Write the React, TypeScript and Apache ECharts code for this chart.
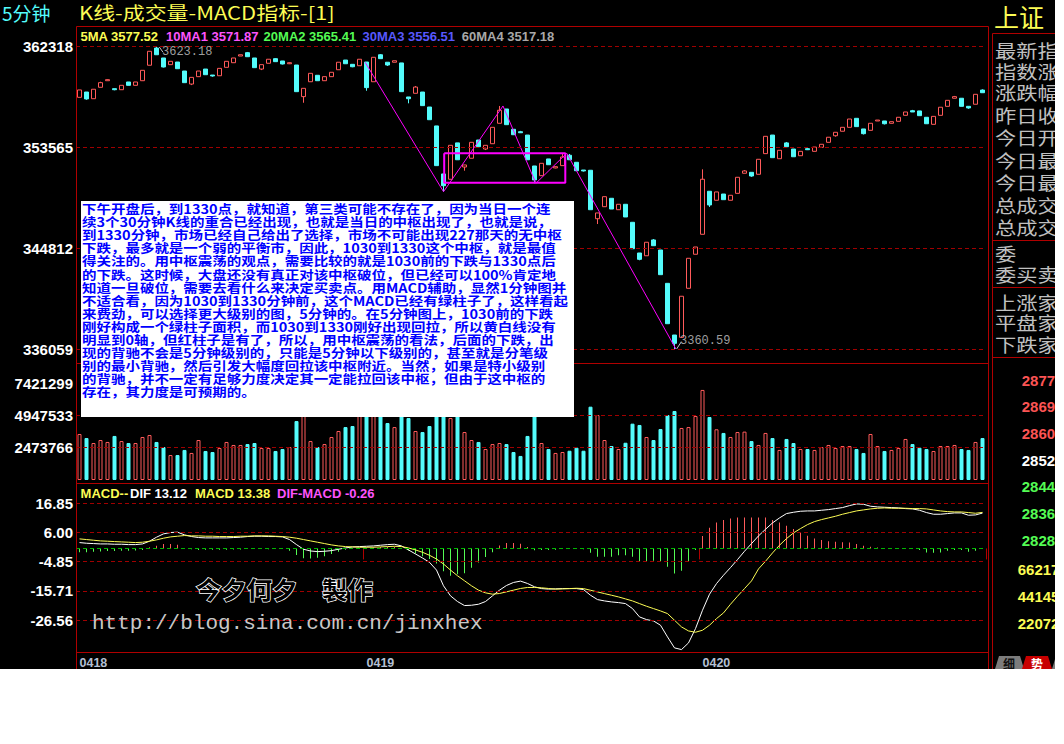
import React, { useEffect, useRef } from "react";
import * as echarts from "echarts";

// ---------- data ----------
// each candle: [open, close, low, high]
const candles: number[][] = [
  [3578.7, 3585.1, 3578.7, 3585.1], [3583.3, 3577.3, 3576.6, 3583.3], [3577.5, 3585.7, 3577.5, 3585.7], [3587.4, 3591.4, 3587.4, 3592.2], [3593.1, 3594.0, 3593.1, 3594.3],
  [3586.2, 3585.3, 3584.8, 3586.2], [3585.3, 3589.1, 3585.3, 3589.1], [3592.0, 3589.1, 3589.1, 3592.0], [3589.1, 3592.0, 3589.1, 3592.0], [3593.1, 3602.1, 3593.1, 3602.1],
  [3606.5, 3618.6, 3606.5, 3618.6], [3621.4, 3615.6, 3615.6, 3623.18], [3612.8, 3605.0, 3604.6, 3612.8], [3607.0, 3609.9, 3607.0, 3609.9], [3609.3, 3603.5, 3603.5, 3609.3],
  [3601.5, 3591.4, 3591.4, 3601.5], [3590.2, 3596.0, 3589.3, 3596.0], [3596.6, 3601.5, 3596.6, 3601.5], [3603.2, 3598.3, 3598.3, 3603.2], [3598.0, 3597.2, 3596.6, 3598.0],
  [3597.4, 3603.8, 3597.4, 3603.8], [3604.7, 3609.9, 3604.7, 3609.9], [3608.7, 3612.8, 3608.7, 3612.8], [3614.5, 3615.6, 3614.5, 3615.6], [3617.4, 3613.9, 3613.9, 3618.0],
  [3612.8, 3604.4, 3604.4, 3612.8], [3603.2, 3607.0, 3602.3, 3607.0], [3608.2, 3611.7, 3608.2, 3611.7], [3612.2, 3609.6, 3609.6, 3612.6], [3610.2, 3607.6, 3607.2, 3610.2],
  [3607.8, 3608.7, 3607.5, 3609.0], [3606.7, 3583.6, 3583.6, 3606.7], [3579.3, 3586.5, 3574.0, 3586.5], [3592.2, 3599.5, 3592.2, 3599.5], [3597.8, 3593.1, 3593.1, 3597.8],
  [3593.1, 3596.6, 3593.1, 3596.6], [3596.6, 3600.4, 3596.6, 3600.4], [3602.6, 3609.1, 3602.6, 3609.1], [3611.0, 3607.8, 3607.8, 3611.0], [3607.3, 3605.2, 3604.8, 3607.3],
  [3606.1, 3611.7, 3606.1, 3611.7], [3609.3, 3587.1, 3584.4, 3609.3], [3592.2, 3613.4, 3592.2, 3613.4], [3615.6, 3612.2, 3612.2, 3616.2], [3609.1, 3606.7, 3605.9, 3609.1],
  [3609.1, 3610.4, 3609.1, 3610.4], [3608.5, 3583.6, 3583.6, 3608.5], [3579.0, 3577.5, 3573.5, 3579.0], [3582.2, 3587.6, 3582.2, 3588.5], [3583.3, 3571.5, 3571.5, 3583.3],
  [3570.3, 3559.3, 3559.3, 3570.3], [3553.9, 3519.5, 3519.5, 3553.9], [3512.3, 3502.1, 3496.9, 3512.3], [3507.7, 3537.1, 3507.7, 3537.1], [3539.2, 3524.6, 3524.6, 3539.2],
  [3518.3, 3520.1, 3515.1, 3520.1], [3525.9, 3539.7, 3525.9, 3539.7], [3541.7, 3535.9, 3535.9, 3541.7], [3533.9, 3537.1, 3533.0, 3537.1], [3538.5, 3552.7, 3538.5, 3552.7],
  [3556.2, 3567.5, 3556.2, 3571.2], [3568.6, 3555.0, 3555.0, 3568.6], [3551.0, 3546.3, 3546.3, 3551.0], [3548.9, 3548.0, 3547.8, 3549.6], [3546.0, 3524.6, 3524.6, 3546.0],
  [3519.2, 3507.1, 3504.2, 3519.2], [3510.8, 3521.5, 3510.8, 3521.5], [3525.3, 3520.3, 3520.3, 3525.3], [3517.5, 3518.6, 3517.2, 3518.6], [3519.5, 3527.0, 3519.5, 3530.2],
  [3528.5, 3524.6, 3524.6, 3529.6], [3522.4, 3515.1, 3515.1, 3522.4], [3515.7, 3514.9, 3514.4, 3515.7], [3515.5, 3481.3, 3481.3, 3515.5], [3473.5, 3478.5, 3468.9, 3478.5],
  [3483.9, 3492.6, 3483.9, 3492.6], [3491.2, 3481.9, 3481.9, 3491.2], [3481.3, 3486.0, 3481.3, 3486.0], [3486.0, 3475.0, 3475.0, 3486.0], [3470.4, 3447.5, 3447.5, 3470.4],
  [3443.8, 3438.3, 3437.5, 3443.8], [3441.4, 3453.1, 3441.4, 3453.1], [3455.1, 3450.1, 3450.1, 3455.9], [3446.4, 3425.0, 3425.0, 3446.4], [3417.5, 3382.5, 3382.5, 3417.5],
  [3372.7, 3365.5, 3360.59, 3372.7], [3370.7, 3406.3, 3370.7, 3406.3], [3413.2, 3439.2, 3413.2, 3439.2], [3442.7, 3449.0, 3442.7, 3449.0], [3460.0, 3507.7, 3460.0, 3516.3],
  [3497.3, 3485.4, 3483.7, 3497.3], [3489.5, 3496.7, 3489.5, 3496.7], [3494.9, 3490.0, 3490.0, 3494.9], [3489.5, 3493.8, 3489.5, 3493.8], [3495.5, 3509.4, 3495.5, 3509.4],
  [3512.9, 3514.9, 3512.9, 3515.6], [3513.7, 3510.5, 3509.8, 3513.7], [3512.0, 3525.0, 3512.0, 3525.0], [3529.9, 3544.9, 3529.9, 3544.9], [3546.0, 3526.4, 3526.4, 3546.0],
  [3525.5, 3532.8, 3525.5, 3532.8], [3539.2, 3535.9, 3535.9, 3540.0], [3533.9, 3527.2, 3527.2, 3533.9], [3528.1, 3531.9, 3528.1, 3531.9], [3534.2, 3533.3, 3533.0, 3535.0],
  [3531.9, 3535.6, 3531.9, 3535.6], [3535.4, 3538.0, 3535.4, 3538.0], [3539.7, 3544.1, 3539.7, 3544.1], [3545.4, 3548.4, 3544.6, 3548.4], [3549.3, 3552.7, 3549.3, 3552.7],
  [3552.7, 3559.9, 3552.7, 3559.9], [3560.5, 3553.3, 3553.3, 3560.5], [3551.3, 3547.2, 3546.5, 3551.3], [3550.1, 3556.2, 3550.1, 3556.2], [3558.2, 3559.0, 3558.2, 3559.0],
  [3558.2, 3555.8, 3555.2, 3558.2], [3556.2, 3557.6, 3556.2, 3557.6], [3557.9, 3561.4, 3557.9, 3561.4], [3563.1, 3566.0, 3563.1, 3566.0], [3567.1, 3566.0, 3566.0, 3567.8],
  [3566.9, 3562.8, 3562.8, 3566.9], [3561.4, 3555.8, 3555.8, 3561.4], [3555.3, 3562.2, 3555.3, 3562.2], [3563.1, 3570.1, 3563.1, 3570.1], [3570.9, 3576.1, 3570.9, 3576.1],
  [3577.9, 3579.3, 3577.9, 3579.9], [3577.9, 3570.9, 3570.9, 3577.9], [3570.9, 3569.5, 3568.8, 3570.9], [3572.7, 3581.3, 3572.7, 3581.3], [3585.0, 3582.7, 3582.7, 3585.6],
];

// volume in units of 10,000 shares
const volumesWan: number[] = [
  352, 321, 283, 306, 291, 337, 298, 283, 283, 329,
  344, 291, 252, 191, 191, 230, 207, 306, 222, 214,
  245, 291, 268, 268, 275, 283, 245, 245, 222, 237,
  252, 451, 520, 298, 252, 275, 329, 375, 405, 413,
  500, 650, 600, 500, 436, 405, 550, 474, 375, 367,
  413, 742.1299, 600, 474, 520, 367, 306, 291, 237, 275,
  283, 275, 214, 184, 337, 500, 283, 237, 207, 214,
  224, 247, 224, 561, 497, 306, 260, 237, 285, 431,
  421, 329, 306, 390, 497, 528, 398, 405, 490, 689,
  482, 388, 360, 329, 367, 370, 298, 268, 360, 321,
  230, 314, 283, 237, 237, 230, 252, 268, 245, 260,
  260, 237, 207, 352, 260, 222, 230, 245, 314, 275,
  247, 237, 222, 260, 260, 268, 237, 230, 291, 321,
];

const dif: number[] = [
  2.17, 1.92, 1.80, 1.67, 1.67, 1.55, 1.55, 1.42, 1.42, 1.67,
  2.67, 4.16, 5.40, 5.90, 6.02, 5.03, 4.41, 4.04, 3.91, 3.91,
  3.91, 3.91, 4.04, 4.16, 4.41, 4.53, 4.53, 4.41, 4.41, 4.28,
  3.29, 1.42, -0.31, -0.94, -1.19, -1.06, -0.81, -0.31, 0.18, 0.56,
  0.68, 0.80, 0.93, 1.18, 1.42, 1.55, 0.93, -0.56, -2.06, -3.55,
  -5.17, -8.03, -13.87, -17.60, -19.71, -21.20, -21.08, -20.71, -19.71, -17.60,
  -15.48, -13.75, -12.63, -12.13, -13.00, -14.24, -14.90, -15.10, -15.00, -14.90,
  -14.90, -14.90, -15.27, -17.37, -18.98, -19.48, -19.85, -20.10, -20.47, -22.32,
  -25.41, -26.40, -26.90, -28.50, -32.83, -36.91, -37.53, -35.06, -29.74, -22.94,
  -17.00, -13.05, -9.95, -7.11, -4.14, -1.05, 1.79, 4.64, 7.11, 9.46,
  11.32, 12.93, 13.42, 13.79, 13.91, 13.91, 14.16, 14.41, 14.78, 15.15,
  15.89, 16.51, 16.39, 15.65, 15.40, 15.28, 15.15, 15.03, 14.78, 14.66,
  14.16, 13.30, 12.68, 12.68, 12.93, 13.17, 13.17, 12.31, 12.43, 13.12,
];

const dea: number[] = [
  3.54, 3.29, 3.04, 2.79, 2.67, 2.54, 2.42, 2.30, 2.17, 2.30,
  2.67, 3.17, 3.79, 4.28, 4.53, 4.78, 4.66, 4.66, 4.53, 4.53,
  4.41, 4.41, 4.41, 4.53, 4.53, 4.66, 4.66, 4.66, 4.53, 4.41,
  4.16, 3.79, 3.29, 2.79, 2.30, 1.80, 1.30, 0.93, 0.68, 0.56,
  0.43, 0.43, 0.43, 0.56, 0.68, 0.80, 0.68, 0.18, -0.56, -1.43,
  -2.55, -3.92, -5.79, -8.03, -10.14, -12.00, -13.87, -15.48, -16.48, -16.98,
  -16.73, -16.11, -15.48, -14.86, -14.49, -14.49, -14.61, -14.86, -15.11, -15.02,
  -14.90, -14.78, -14.90, -15.52, -16.14, -16.76, -17.37, -17.99, -18.73, -19.48,
  -20.47, -21.45, -22.32, -23.19, -24.18, -26.65, -29.12, -30.61, -31.10, -30.36,
  -28.50, -26.03, -23.93, -20.71, -17.74, -14.90, -12.06, -7.60, -4.76, -1.67,
  1.18, 3.65, 5.75, 7.36, 8.84, 9.96, 10.70, 11.32, 11.94, 12.68,
  13.30, 13.91, 14.29, 14.66, 14.90, 15.03, 14.90, 14.90, 14.90, 14.78,
  14.78, 14.66, 14.29, 13.91, 13.67, 13.54, 13.54, 13.30, 13.05, 13.38,
];

const macdBars: number[] = [
  -1.4, -1.4, -1.2, -1.1, -1.0, -1.0, -0.9, -0.9, -0.8, -0.6,
  0.4, 1.0, 1.6, 1.6, 1.4, 0.2, -0.3, -0.6, -0.5, -0.5,
  -0.5, -0.5, -0.4, -0.4, -0.2, -0.2, -0.2, -0.3, -0.2, -0.2,
  -0.9, -2.4, -3.6, -3.7, -3.5, -2.9, -2.1, -1.2, -0.5, 0.0,
  0.2, 0.3, 0.4, 0.5, 0.6, 0.6, 0.2, -0.8, -1.9, -2.9,
  -3.9, -5.6, -8.5, -10.1, -9.6, -9.2, -7.2, -5.2, -3.2, -1.4,
  1.1, 2.0, 2.0, 1.7, 0.5, -0.7, -0.6, -0.6, -0.5, -0.2,
  0.0, 0.1, -0.3, -1.6, -3.1, -3.1, -3.1, -2.5, -2.5, -3.1,
  -4.9, -4.9, -4.6, -4.9, -6.8, -9.3, -8.3, -4.9, -0.6, 4.6,
  7.7, 9.6, 10.5, 11.1, 11.5, 11.5, 11.5, 11.5, 11.5, 10.5,
  9.6, 8.4, 7.2, 5.8, 4.7, 3.7, 3.1, 2.7, 2.5, 2.3,
  2.2, 1.6, 1.0, 0.6, 0.3, 0.1, -0.1, -0.2, -0.1, -0.2,
  -0.6, -1.5, -1.6, -1.5, -0.9, -0.6, -0.6, -1.2, -0.9, -0.26,
];

const dayLabels = ["0418", "0419", "0420"];
const dayStarts = [0, 41, 89];

const priceTicks = [3360.59, 3448.12, 3535.65, 3623.18];
const volumeTicksWan = [247.3766, 494.7533, 742.1299];
const macdTicks = [16.85, 6.0, -4.85, -15.71, -26.56];

// hand-drawn strokes (bar index, price)
const strokePoints = [[40.8, 3609.1], [52.0, 3496.9], [60.5, 3571.2], [65.2, 3504.2], [69.6, 3530.2], [85.2, 3360.59]];
const hubBox = [[52.1, 3530.2], [69.4, 3530.2], [69.4, 3504.7], [52.1, 3504.7], [52.1, 3530.2]];
const extremes = [
  { index: 11, price: 3623.18 },
  { index: 85, price: 3360.59 },
];
const pointerLines = [
  [[11.4, 3622.3], [11.9, 3618.0]],
  [[85.3, 3360.59], [85.95, 3366.6]],
];

const maLegend = [
  { label: "5MA", value: "3577.52", color: "#fcfc54" },
  { label: "10MA1", value: "3571.87", color: "#fc54fc" },
  { label: "20MA2", value: "3565.41", color: "#54fc54" },
  { label: "30MA3", value: "3556.51", color: "#5858fc" },
  { label: "60MA4", value: "3517.18", color: "#a8a8a8" },
];

const macdLegend = [
  { text: "MACD--", color: "#fcfc54" },
  { text: "DIF 13.12", color: "#ffffff" },
  { text: "MACD 13.38", color: "#fcfc54" },
  { text: "DIF-MACD -0.26", color: "#fc54fc" },
];

const noteLines = [
  "下午开盘后，到1330点，就知道，第三类可能不存在了，因为当日一个连",
  "续3个30分钟K线的重合已经出现，也就是当日的中枢出现了，也就是说，",
  "到1330分钟，市场已经自己给出了选择，市场不可能出现227那天的无中枢",
  "下跌，最多就是一个弱的平衡市，因此，1030到1330这个中枢，就是最值",
  "得关注的。用中枢震荡的观点，需要比较的就是1030前的下跌与1330点后",
  "的下跌。这时候，大盘还没有真正对该中枢破位，但已经可以100%肯定地",
  "知道一旦破位，需要去看什么来决定买卖点。用MACD辅助，显然1分钟图并",
  "不适合看，因为1030到1330分钟前，这个MACD已经有绿柱子了，这样看起",
  "来费劲，可以选择更大级别的图，5分钟的。在5分钟图上，1030前的下跌",
  "刚好构成一个绿柱子面积，而1030到1330刚好出现回拉，所以黄白线没有",
  "明显到0轴，但红柱子是有了，所以，用中枢震荡的看法，后面的下跌，出",
  "现的背驰不会是5分钟级别的，只能是5分钟以下级别的，甚至就是分笔级",
  "别的最小背驰，然后引发大幅度回拉该中枢附近。当然，如果是特小级别",
  "的背驰，并不一定有足够力度决定其一定能拉回该中枢，但由于这中枢的",
  "存在，其力度是可预期的。",
];

const quoteLabels = ["最新指", "指数涨", "涨跌幅", "昨日收", "今日开", "今日最", "今日最", "总成交", "总成交", "委", "委买卖", "上涨家", "平盘家", "下跌家"];
const sideScale = [
  { text: "2877", color: "#fc5454" },
  { text: "2869", color: "#fc5454" },
  { text: "2860", color: "#fc5454" },
  { text: "2852", color: "#ffffff" },
  { text: "2844", color: "#54fc54" },
  { text: "2836", color: "#54fc54" },
  { text: "2828", color: "#54fc54" },
  { text: "66217", color: "#fcfc54" },
  { text: "44145", color: "#fcfc54" },
  { text: "22072", color: "#fcfc54" },
];

// ---------- styling ----------
const CYAN = "#54fcfc";
const RED = "#ff5a5a";
const GREEN = "#54fc54";
const FRAME = "#b00000";
const DASH = "#a00000";
const SANS = '"Liberation Sans", Arial, sans-serif';
const CJK = '"Noto Sans CJK SC", sans-serif';
const MONO = '"Liberation Mono", monospace';

function txt(x: number, y: number, text: string, fill: string, fontSize: number, extra: any = {}, elExtra: any = {}) {
  return {
    type: "text",
    x,
    y,
    z: 20,
    ...elExtra,
    style: { text, fill, fontSize, fontFamily: SANS, fontWeight: "bold", verticalAlign: "middle", align: "left", ...extra },
  };
}

function hline(x1: number, x2: number, y: number, color = FRAME) {
  return { type: "line", z: 30, shape: { x1, y1: y, x2, y2: y }, style: { stroke: color, lineWidth: 1 } };
}
function vline(x: number, y1: number, y2: number, color = FRAME) {
  return { type: "line", z: 30, shape: { x1: x, y1, x2: x, y2 }, style: { stroke: color, lineWidth: 1 } };
}

function gridLines(values: number[], color: string) {
  return {
    silent: true,
    symbol: ["none", "none"],
    label: { show: false },
    lineStyle: { color, type: [4, 3], width: 1 },
    emphasis: { disabled: true },
    data: values.map((v) => ({ yAxis: v })),
  };
}

function buildOption() {
  const N = candles.length;
  const cats = candles.map((_, i) => String(i));
  const up = (i: number) => candles[i][1] > candles[i][0];

  const axisLabelBase = { color: "#ffffff", fontWeight: "bold", fontSize: 15, fontFamily: SANS, margin: 3 };

  const graphics: any[] = [];

  // titles
  graphics.push(txt(2, 12, "5分钟", CYAN, 19, { fontFamily: CJK, fontWeight: "normal" }));
  graphics.push(txt(79, 12, "K线-成交量-MACD指标-[1]", "#fcfc54", 18, { fontFamily: CJK, fontWeight: "normal" }, { scaleX: 1.22 }));
  graphics.push(txt(994, 16, "上证", "#fcfc54", 25, { fontFamily: CJK, fontWeight: "normal" }));

  // MA legend
  const maX = [80.4, 166, 263.6, 362.5, 461.8];
  maLegend.forEach((m, k) => graphics.push(txt(maX[k], 36, `${m.label} ${m.value}`, m.color, 13)));

  // MACD legend
  const mX = [80.6, 130, 195, 277];
  macdLegend.forEach((m, k) => graphics.push(txt(mX[k], 493, m.text, m.color, 13)));

  // frame
  graphics.push(vline(76.5, 26.5, 669));
  graphics.push(hline(76.5, 988.5, 26.5));
  graphics.push(vline(988.5, 26.5, 669));
  graphics.push(hline(76.5, 988.5, 363.5));
  graphics.push(hline(76.5, 988.5, 483.5));
  graphics.push(hline(76.5, 988.5, 652.5));
  // right panel
  graphics.push(vline(992.5, 33.5, 669));
  graphics.push(hline(992.5, 1055, 33.5));
  graphics.push(hline(992.5, 1055, 240.5));
  graphics.push(hline(992.5, 1055, 287.5));
  graphics.push(hline(992.5, 1055, 357.5));
  const rowY = [50, 71, 92, 115, 137, 160, 182, 205, 227, 253, 274, 302, 322, 344];
  quoteLabels.forEach((t, k) =>
    graphics.push(txt(995, rowY[k], t, "#c0c0c0", 18, { fontFamily: CJK, fontWeight: "normal" }, { scaleX: 1.18 }))
  );
  const scaleY = [380, 406.7, 433.3, 460, 486.7, 513.3, 540, 569.3, 596.7, 623.3];
  sideScale.forEach((s, k) => graphics.push(txt(k < 7 ? 1021.7 : 1017.7, scaleY[k], s.text, s.color, 15)));
  // tabs
  graphics.push({ type: "polygon", z: 25, shape: { points: [[995, 669], [999, 656], [1020, 656], [1024, 669]] }, style: { fill: "#7c7c7c" } });
  graphics.push({ type: "polygon", z: 25, shape: { points: [[1022, 669], [1026, 656], [1048, 656], [1052, 669]] }, style: { fill: "#c80000" } });
  graphics.push({ type: "polygon", z: 25, shape: { points: [[1052, 669], [1056, 656], [1070, 656], [1074, 669]] }, style: { fill: "#7c7c7c" } });
  graphics.push(txt(1003, 663, "细", "#101010", 12, { fontFamily: CJK }, { z: 26 }));
  graphics.push(txt(1031, 663, "势", "#ffffff", 12, { fontFamily: CJK }, { z: 26 }));

  // comment box
  graphics.push({ type: "rect", z: 50, shape: { x: 81, y: 201, width: 493, height: 216 }, style: { fill: "#ffffff" } });
  noteLines.forEach((t, k) =>
    graphics.push(txt(82, 208.5 + k * 13.1, t, "#0000ff", 12.5, { fontFamily: CJK, fontWeight: "bold" }, { z: 51, scaleX: 1.16 }))
  );

  // watermark
  graphics.push(txt(196, 588, "今夕何夕", "#000000", 24, { fontFamily: CJK, fontWeight: "bold", stroke: "#ffffff", lineWidth: 1.5 }, { z: 15, scaleX: 1.06 }));
  graphics.push(txt(322, 588, "製作", "#000000", 24, { fontFamily: CJK, fontWeight: "bold", stroke: "#ffffff", lineWidth: 1.5 }, { z: 15, scaleX: 1.06 }));
  graphics.push(txt(92, 623, "http://blog.sina.com.cn/jinxhex", "#c8c8c8", 21, { fontFamily: MONO, fontWeight: "normal" }, { z: 15 }));

  // white page outside the picture
  graphics.push({ type: "rect", z: 200, shape: { x: 1055, y: 0, width: 20, height: 744 }, style: { fill: "#ffffff" } });
  graphics.push({ type: "rect", z: 200, shape: { x: 0, y: 669, width: 1075, height: 80 }, style: { fill: "#ffffff" } });

  const dayTick = (i: number) => dayStarts.indexOf(i) >= 0;

  return {
    animation: false,
    backgroundColor: "#000000",
    grid: [
      { left: 76, top: 46, width: 910, height: 303 },
      { left: 76, top: 383, width: 910, height: 97 },
      { left: 76, top: 487, width: 910, height: 165 },
    ],
    xAxis: [
      { type: "category", gridIndex: 0, data: cats, boundaryGap: true, show: false },
      { type: "category", gridIndex: 1, data: cats, boundaryGap: true, show: false },
      {
        type: "category",
        gridIndex: 2,
        data: cats,
        boundaryGap: true,
        axisLine: { show: false },
        axisTick: { show: true, interval: (i: number) => dayTick(i), length: 11, lineStyle: { color: FRAME, width: 1 } },
        axisLabel: {
          interval: (i: number) => dayTick(i),
          formatter: (_v: string, i: number) => dayLabels[dayStarts.indexOf(i)] || "",
          align: "left",
          color: "#b4c0d4",
          fontWeight: "bold",
          fontSize: 12.5,
          fontFamily: SANS,
          margin: 4,
        },
        splitLine: { show: false },
      },
      { type: "value", gridIndex: 0, min: -0.5, max: N - 0.5, show: false },
    ],
    yAxis: [
      {
        type: "value",
        gridIndex: 0,
        min: priceTicks[0],
        max: priceTicks[priceTicks.length - 1],
        axisLine: { show: false },
        axisTick: { show: false },
        splitLine: { show: false },
        axisLabel: { ...axisLabelBase, customValues: priceTicks, formatter: (v: number) => v.toFixed(2).replace(".", "") },
      },
      {
        type: "value",
        gridIndex: 1,
        min: 0,
        max: volumeTicksWan[volumeTicksWan.length - 1],
        axisLine: { show: false },
        axisTick: { show: false },
        splitLine: { show: false },
        axisLabel: { ...axisLabelBase, customValues: volumeTicksWan, formatter: (v: number) => String(Math.round(v * 10000)) },
      },
      {
        type: "value",
        gridIndex: 2,
        min: -38.43,
        max: 22.79,
        axisLine: { show: false },
        axisTick: { show: false },
        splitLine: { show: false },
        axisLabel: { ...axisLabelBase, customValues: macdTicks, formatter: (v: number) => v.toFixed(2) },
      },
    ],
    series: [
      { type: "line", xAxisIndex: 0, yAxisIndex: 0, data: [], z: 1, markLine: gridLines(priceTicks, DASH) },
      { type: "line", xAxisIndex: 1, yAxisIndex: 1, data: [], z: 1, markLine: gridLines(volumeTicksWan, DASH) },
      { type: "line", xAxisIndex: 2, yAxisIndex: 2, data: [], z: 1, markLine: gridLines(macdTicks, DASH) },
      { type: "line", xAxisIndex: 2, yAxisIndex: 2, data: [], z: 1, markLine: gridLines([0], "#00b400") },
      {
        type: "candlestick",
        xAxisIndex: 0,
        yAxisIndex: 0,
        data: candles,
        barWidth: 4,
        z: 3,
        itemStyle: { color: "#000000", color0: CYAN, borderColor: RED, borderColor0: CYAN, borderWidth: 1 },
      },
      {
        type: "line",
        xAxisIndex: 3,
        yAxisIndex: 0,
        data: strokePoints,
        symbol: "none",
        z: 4,
        lineStyle: { color: "#ff00ff", width: 1 },
      },
      {
        type: "line",
        xAxisIndex: 3,
        yAxisIndex: 0,
        data: hubBox,
        symbol: "none",
        z: 4,
        lineStyle: { color: "#ff00ff", width: 2 },
      },
      ...pointerLines.map((pts) => ({
        type: "line",
        xAxisIndex: 3,
        yAxisIndex: 0,
        data: pts,
        symbol: "none",
        z: 4,
        lineStyle: { color: "#c8c8c8", width: 1 },
      })),
      {
        type: "scatter",
        xAxisIndex: 3,
        yAxisIndex: 0,
        symbolSize: 0,
        z: 5,
        data: extremes.map((e, k) => ({
          value: [e.index, e.price],
          label: { offset: k === 0 ? [0, 5.5] : [0, -8] },
        })),
        label: {
          show: true,
          position: "right",
          distance: 5.5,
          formatter: (p: any) => p.value[1].toFixed(2),
          color: "#c8c8c8",
          fontFamily: MONO,
          fontSize: 12,
        },
      },
      {
        type: "bar",
        xAxisIndex: 1,
        yAxisIndex: 1,
        barWidth: 4,
        z: 3,
        data: volumesWan.map((v, i) => ({
          value: v,
          itemStyle: up(i)
            ? { color: "#000000", borderColor: RED, borderWidth: 1 }
            : { color: CYAN, borderColor: CYAN, borderWidth: 1 },
        })),
      },
      {
        type: "bar",
        xAxisIndex: 2,
        yAxisIndex: 2,
        barWidth: 1,
        z: 3,
        data: macdBars.map((v) => ({ value: v, itemStyle: { color: v >= 0 ? RED : GREEN } })),
      },
      {
        type: "line",
        xAxisIndex: 2,
        yAxisIndex: 2,
        data: dif,
        symbol: "none",
        z: 4,
        lineStyle: { color: "#ffffff", width: 1 },
      },
      {
        type: "line",
        xAxisIndex: 2,
        yAxisIndex: 2,
        data: dea,
        symbol: "none",
        z: 4,
        lineStyle: { color: "#fcfc54", width: 1 },
      },
    ],
    graphic: { elements: graphics },
  };
}

export default function App() {
  const ref = useRef<HTMLDivElement>(null);
  useEffect(() => {
    if (!ref.current) return;
    const chart = echarts.init(ref.current, null, { renderer: "svg" });
    chart.setOption(buildOption() as any);
    return () => chart.dispose();
  }, []);
  return <div ref={ref} style={{ position: "absolute", left: 0, top: 0, width: 1064, height: 744 }} />;
}
